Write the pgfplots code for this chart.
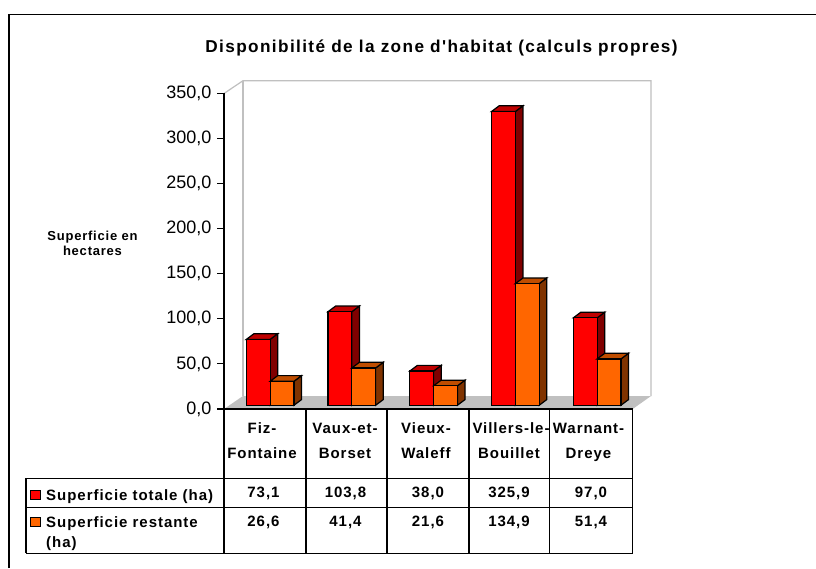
\documentclass[border=0pt]{standalone}
\usepackage{pgfplots}
\pgfplotsset{compat=1.18}
\usepackage{fontspec}
\setmainfont{Liberation Sans}
\newfontfamily\tblf[LetterSpace=6.5]{Liberation Sans}
\newfontfamily\ttlf[LetterSpace=8]{Liberation Sans}
\newfontfamily\ylf[LetterSpace=6]{Liberation Sans}
\definecolor{rf}{HTML}{FF0000}
\definecolor{rt}{HTML}{BF0000}
\definecolor{rs}{HTML}{800000}
\definecolor{of}{HTML}{FF6600}
\definecolor{ot}{HTML}{BF4D00}
\definecolor{os}{HTML}{803300}
\definecolor{wl}{HTML}{C0C0C0}
\newcommand{\tb}{\fontsize{15}{17}\selectfont\tblf\bfseries}
\begin{document}
\begin{tikzpicture}
\path[use as bounding box,fill=white] (0pt,0pt) rectangle (816pt,568pt);
\begin{scope}[x=1pt,y=-1pt,yshift=568pt]
\draw[line width=1.5pt] (9,568) -- (9,14.5) -- (816,14.5);
% walls and floor
\fill[wl] (224,409) -- (243,396) -- (651,396) -- (632.7,409) -- cycle;
\draw[wl,line width=1.2pt] (224,93.5) -- (243,80.7) -- (651,80.7) -- (651,396);
\draw[wl,line width=1.2pt] (243,80.7) -- (243,396);
\end{scope}
% y axis
\begin{axis}[at={(224pt,159pt)},anchor=south west,scale only axis,width=408.7pt,height=315.5pt,
  xmin=224,xmax=632.7,ymin=0,ymax=350,
  axis y line*=left,axis x line*=bottom,xtick=\empty,
  ytick={0,50,100,150,200,250,300,350},
  yticklabels={0{,}0,50{,}0,100{,}0,150{,}0,200{,}0,250{,}0,300{,}0,350{,}0},
  tick align=outside,major tick length=7pt,
  tick style={black,line width=1.1pt},
  axis line style={line width=1.3pt,-},
  yticklabel style={font=\fontsize{18}{20}\selectfont,inner sep=0pt,xshift=-5.5pt},
  /pgf/number format/assume math mode=true,
]
\addplot[draw=none] coordinates {(224,0)};
\end{axis}
% bars
\begin{axis}[at={(224pt,162.7pt)},anchor=south west,scale only axis,width=408.7pt,height=315.5pt,
  xmin=224,xmax=632.7,ymin=0,ymax=350,hide axis,clip=false]
\pgfplotsset{every axis plot/.append style={line width=1.2pt,line join=miter}}
% red sides
\addplot[draw=black,fill=rs] coordinates {(270.1,0)(270.1,73.1)(277.7,79.4)(277.7,6.3)} --cycle;
\addplot[draw=black,fill=rs] coordinates {(351.8,0)(351.8,103.8)(359.4,110.1)(359.4,6.3)} --cycle;
\addplot[draw=black,fill=rs] coordinates {(433.6,0)(433.6,38.0)(441.2,44.3)(441.2,6.3)} --cycle;
\addplot[draw=black,fill=rs] coordinates {(515.3,0)(515.3,325.9)(522.9,332.2)(522.9,6.3)} --cycle;
\addplot[draw=black,fill=rs] coordinates {(597.1,0)(597.1,97.0)(604.7,103.3)(604.7,6.3)} --cycle;
% red tops
\addplot[draw=black,fill=rt] coordinates {(246.3,73.1)(270.1,73.1)(277.7,79.4)(253.9,79.4)} --cycle;
\addplot[draw=black,fill=rt] coordinates {(328.0,103.8)(351.8,103.8)(359.4,110.1)(335.6,110.1)} --cycle;
\addplot[draw=black,fill=rt] coordinates {(409.8,38.0)(433.6,38.0)(441.2,44.3)(417.4,44.3)} --cycle;
\addplot[draw=black,fill=rt] coordinates {(491.5,325.9)(515.3,325.9)(522.9,332.2)(499.1,332.2)} --cycle;
\addplot[draw=black,fill=rt] coordinates {(573.3,97.0)(597.1,97.0)(604.7,103.3)(580.9,103.3)} --cycle;
% red fronts: Superficie totale (ha)
\addplot[ybar,bar width=23.8,bar shift=0pt,draw=black,fill=rf] coordinates {(258.2,73.1)(339.9,103.8)(421.7,38.0)(503.4,325.9)(585.2,97.0)};
% orange sides
\addplot[draw=black,fill=os] coordinates {(293.9,0)(293.9,26.6)(301.5,32.9)(301.5,6.3)} --cycle;
\addplot[draw=black,fill=os] coordinates {(375.6,0)(375.6,41.4)(383.2,47.7)(383.2,6.3)} --cycle;
\addplot[draw=black,fill=os] coordinates {(457.4,0)(457.4,21.6)(465.0,27.9)(465.0,6.3)} --cycle;
\addplot[draw=black,fill=os] coordinates {(539.1,0)(539.1,134.9)(546.7,141.2)(546.7,6.3)} --cycle;
\addplot[draw=black,fill=os] coordinates {(620.9,0)(620.9,51.4)(628.5,57.7)(628.5,6.3)} --cycle;
% orange tops
\addplot[draw=black,fill=ot] coordinates {(270.1,26.6)(293.9,26.6)(301.5,32.9)(277.7,32.9)} --cycle;
\addplot[draw=black,fill=ot] coordinates {(351.8,41.4)(375.6,41.4)(383.2,47.7)(359.4,47.7)} --cycle;
\addplot[draw=black,fill=ot] coordinates {(433.6,21.6)(457.4,21.6)(465.0,27.9)(441.2,27.9)} --cycle;
\addplot[draw=black,fill=ot] coordinates {(515.3,134.9)(539.1,134.9)(546.7,141.2)(522.9,141.2)} --cycle;
\addplot[draw=black,fill=ot] coordinates {(597.1,51.4)(620.9,51.4)(628.5,57.7)(604.7,57.7)} --cycle;
% orange fronts: Superficie restante (ha)
\addplot[ybar,bar width=23.8,bar shift=0pt,draw=black,fill=of] coordinates {(282.0,26.6)(363.7,41.4)(445.5,21.6)(527.2,134.9)(609.0,51.4)};
\end{axis}
\begin{scope}[x=1pt,y=-1pt,yshift=568pt]
% data table
\draw[line width=1.2pt] (224,409) -- (224,553.3) (306,409) -- (306,553.3) (387,409) -- (387,553.3)
  (469,409) -- (469,553.3) (549.5,409) -- (549.5,553.3) (632.5,409) -- (632.5,553.3)
  (26,478.3) -- (632.5,478.3) (26,507.3) -- (632.5,507.3) (26,553.3) -- (632.5,553.3) (26,478.3) -- (26,553.3);
\draw[line width=1pt,fill=rf] (30.5,490) rectangle (40,499);
\draw[line width=1pt,fill=of] (30.5,517.5) rectangle (40,526.5);
\node[anchor=base west,inner sep=0pt] at (46,500) {\tb Superficie totale (ha)};
\node[anchor=base west,inner sep=0pt] at (46,527) {\tb Superficie restante};
\node[anchor=base west,inner sep=0pt] at (46,547) {\tb (ha)};
\foreach \x/\y/\a/\b in {262/262/Fiz-/Fontaine,345/345/Vaux-et-/Borset,426/426/Vieux-/Waleff,511/509/Villers-le-/Bouillet,588.5/588.5/Warnant-/Dreye}{
  \node[anchor=base,inner sep=0pt] at (\x,433) {\tb \a};
  \node[anchor=base,inner sep=0pt] at (\y,458) {\tb \b};}
\foreach \x/\a/\b in {263.5/73{,}1/26{,}6,345.5/103{,}8/41{,}4,428/38{,}0/21{,}6,509/325{,}9/134{,}9,591/97{,}0/51{,}4}{
  \node[anchor=base,inner sep=0pt] at (\x,497) {\tb \a};
  \node[anchor=base,inner sep=0pt] at (\x,526) {\tb \b};}
% titles
\node[anchor=base,inner sep=0pt] at (441.5,53) {\fontsize{17.2}{19}\selectfont\ttlf\bfseries Disponibilité de la zone d'habitat (calculs propres)};
\node[anchor=base,inner sep=0pt] at (92.5,240.5) {\fontsize{13}{15}\selectfont\ylf\bfseries Superficie en};
\node[anchor=base,inner sep=0pt] at (92.5,256) {\fontsize{13}{15}\selectfont\ylf\bfseries hectares};
\end{scope}
\end{tikzpicture}
\end{document}
